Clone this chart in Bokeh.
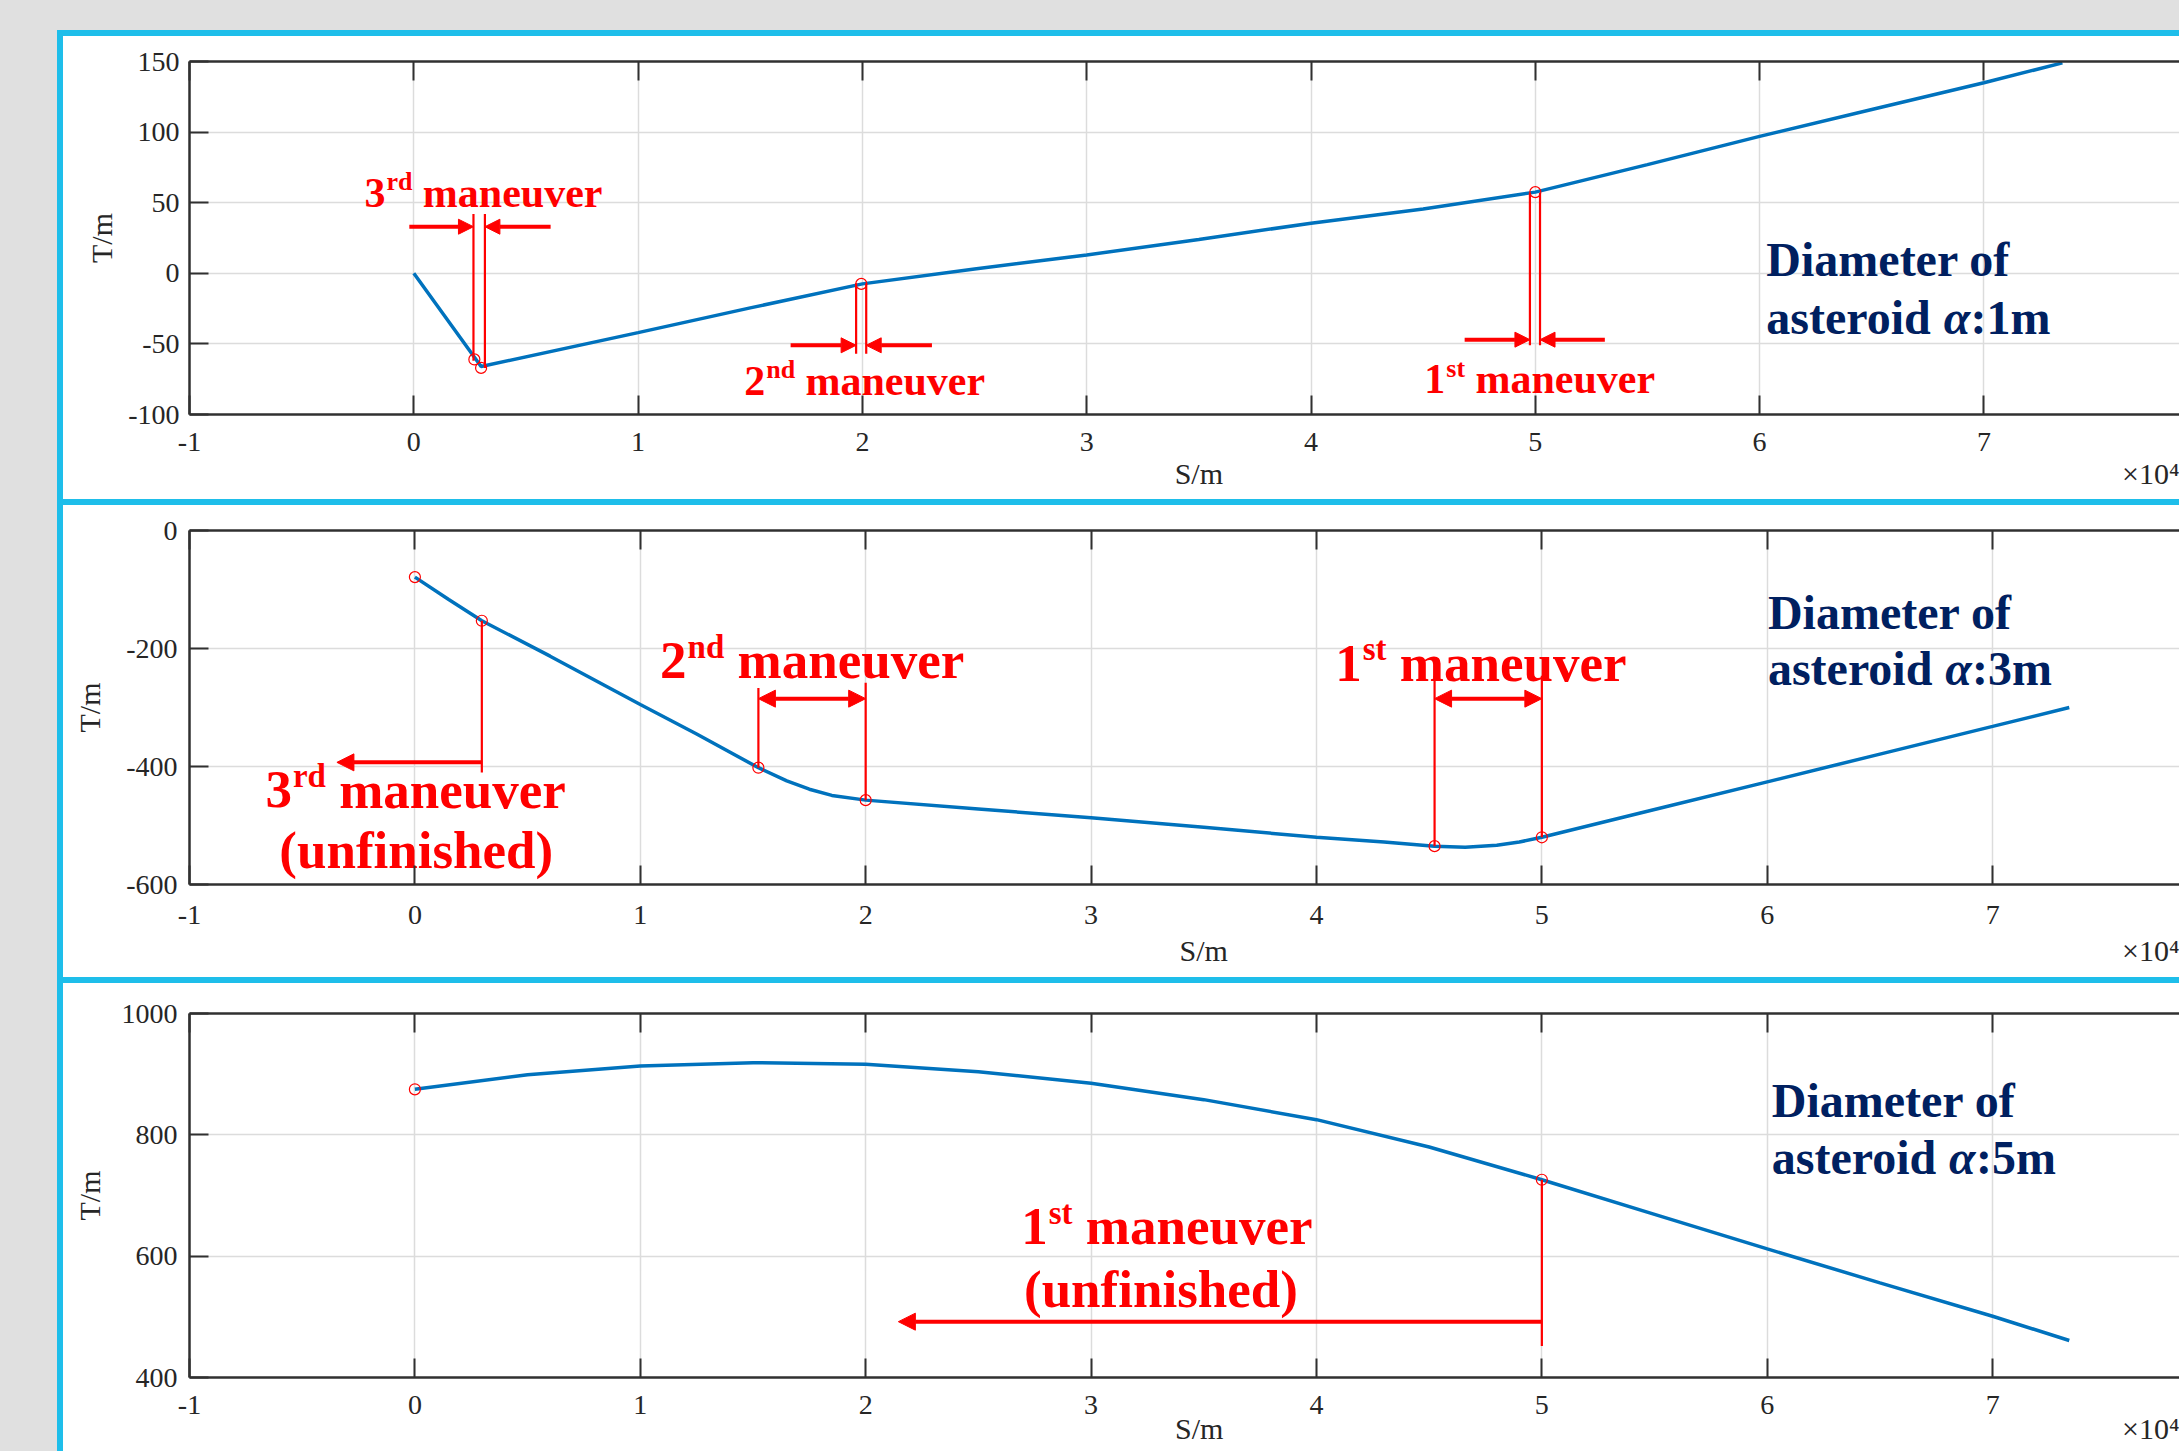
from bokeh.plotting import figure
from bokeh.models import (ColumnDataSource, Range1d, LinearAxis, FixedTicker, Arrow,
                          NormalHead, Spacer)
from bokeh.layouts import column, row
from bokeh.core.properties import value
from bokeh.embed import file_html
from bokeh.resources import INLINE

# ---------------- data (S in 10^4 m, T in m) ----------------
X_TICKS = [-1, 0, 1, 2, 3, 4, 5, 6, 7, 8]
X_LABELS = ["-1", "0", "1", "2", "3", "4", "5", "6", "7", "8"]

# Panel 1: diameter 1 m
S1 = [0, 0.3, 1.0, 1.5, 2.0, 2.5, 3.0, 3.5, 4.0, 4.5, 5.0, 5.5, 6.0, 6.5, 7.0, 7.35]
T1 = [0, -66, -42, -24.5, -7.5, 3, 13, 24, 35.5, 45.5, 57.5, 77, 97, 116, 135, 149]
C1_X = [0.27, 0.30, 1.995, 5.0]
C1_Y = [-61, -67, -7.5, 57.5]
Y1_TICKS = [-100, -50, 0, 50, 100, 150]
Y1_LABELS = ["-100", "-50", "0", "50", "100", "150"]

# Panel 2: diameter 3 m
S2 = [0, 0.15, 0.297, 0.6, 1.0, 1.25, 1.524, 1.65, 1.75, 1.85, 2.0, 2.5, 3.0, 3.5,
      4.0, 4.3, 4.524, 4.66, 4.8, 4.9, 5.0, 5.5, 6.0, 6.5, 7.0, 7.34]
T2 = [-79, -117, -153, -213, -295, -345, -402, -424.5, -438.5, -449, -457, -472, -487, -503,
      -520, -528, -535, -536.8, -533.6, -528, -520, -473, -426, -379, -332, -300]
C2_X = [0, 0.297, 1.524, 2.0, 4.524, 5.0]
C2_Y = [-79, -153, -402, -457, -535, -520]
Y2_TICKS = [-600, -400, -200, 0]
Y2_LABELS = ["-600", "-400", "-200", "0"]

# Panel 3: diameter 5 m
S3 = [0, 0.5, 1.0, 1.5, 2.0, 2.5, 3.0, 3.5, 4.0, 4.5, 5.0, 5.5, 6.0, 6.5, 7.0, 7.34]
T3 = [875, 899, 913.5, 919, 916.5, 904, 885, 858, 825, 780, 726, 669, 612, 556, 501, 461]
C3_X = [0, 5.0]
C3_Y = [875, 726]
Y3_TICKS = [400, 600, 800, 1000]
Y3_LABELS = ["400", "600", "800", "1000"]

# maneuver markers (vertical guide lines and arrows)
V1_X0 = [0.266, 0.317, 1.972, 2.017, 4.976, 5.021]
V1_Y0 = [-62, -67, -7, -7, 57, 57]
V1_Y1 = [42, 42, -57, -57, -51, -51]
A1_X0 = [-0.02, 0.61, 1.68, 2.31, 4.685, 5.31]
A1_X1 = [0.266, 0.317, 1.972, 2.017, 4.976, 5.021]
A1_Y = [33, 33, -51, -51, -47, -47]

V2_X0 = [1.524, 2.0, 4.524, 5.0, 0.297]
V2_Y0 = [-402, -457, -535, -520, -153]
V2_Y1 = [-267, -258, -246, -246, -410]
D2_X0 = [1.524, 4.524]
D2_X1 = [2.0, 5.0]
D2_Y = [-285, -285]
A2_X0 = [0.297]
A2_X1 = [-0.346]
A2_Y = [-393]

V3_X0 = [5.0]
V3_Y0 = [726]
V3_Y1 = [452]
A3_X0 = [5.0]
A3_X1 = [2.145]
A3_Y = [492]

# annotation texts
P1_MAN_X = [-0.22, 1.473, 4.505]
P1_MAN_Y = [57, -76, -75]
P1_MAN_NUM = ["3", "2", "1"]
P1_MAN_SUP = ["rd", "nd", "st"]

P2_MAN_X = [1.088, 4.083, -0.663]
P2_MAN_Y = [-220, -225, -439]
P2_MAN_NUM = ["2", "1", "3"]
P2_MAN_SUP = ["nd", "st", "rd"]
P2_UNF_X = [0.006]
P2_UNF_Y = [-541]

P3_MAN_X = [2.69]
P3_MAN_Y = [649]
P3_MAN_NUM = ["1"]
P3_MAN_SUP = ["st"]
P3_UNF_X = [3.31]
P3_UNF_Y = [546]

DIAM_TEXT = ["1m", "3m", "5m"]
DIAM_X = [6.03, 6.003, 6.02]
DIAM_Y1 = [10, -139, 857]
DIAM_Y2 = [-31.5, -234, 763]

# x-axis name and exponent positions (in S units of each panel)
SM_X = [3.5, 3.5, 3.48]
EXP_X = [7.827, 7.784, 7.784]
X_NAME = "S/m"
X_EXP = "\u00d710\u2074"

# ---------------- style ----------------
SERIF = "Liberation Serif"
BLUE = "#0072BD"
RED = "#FF0000"
NAVY = "#002060"
GRAY_BG = "#e0e0e0"
CYAN = "#1ebeea"
AXC = "#303030"
TXT = "#262626"

SUP_W = {"rd": 0.62, "nd": 0.69, "st": 0.45}


def make_panel(w, h, x_end, yr, yticks, ylabels, mb_left, mb_top, mb_bottom,
               tick_standoff, name_standoff, ylab_standoff, ytick_standoff, i):
    p = figure(width=w, height=h, x_range=Range1d(-1, x_end), y_range=Range1d(*yr),
               output_backend="svg", toolbar_location=None,
               min_border_left=mb_left, min_border_right=0,
               min_border_top=mb_top, min_border_bottom=mb_bottom)
    p.outline_line_color = None
    p.background_fill_color = "white"
    p.border_fill_color = "white"
    xt = FixedTicker(ticks=X_TICKS)
    yt = FixedTicker(ticks=yticks)
    p.xaxis.ticker = xt
    p.yaxis.ticker = yt
    p.xgrid.ticker = xt
    p.ygrid.ticker = yt
    for g in (p.xgrid, p.ygrid):
        g.grid_line_color = "#dcdcdc"
        g.grid_line_width = 1.5
    p.xaxis.major_label_overrides = {t: l for t, l in zip(X_TICKS, X_LABELS)}
    p.yaxis.major_label_overrides = {t: l for t, l in zip(yticks, ylabels)}
    for ax in (p.xaxis, p.yaxis):
        ax.major_tick_in = 19
        ax.major_tick_out = 0
        ax.minor_tick_in = 0
        ax.minor_tick_out = 0
        ax.axis_line_width = 2.5
        ax.axis_line_color = AXC
        ax.major_tick_line_width = 2
        ax.major_tick_line_color = AXC
        ax.major_label_text_font = SERIF
        ax.major_label_text_font_size = "28px"
        ax.major_label_text_color = TXT
        ax.axis_label_text_font = SERIF
        ax.axis_label_text_font_size = "30px"
        ax.axis_label_text_font_style = "normal"
        ax.axis_label_text_color = TXT
    p.xaxis.major_label_standoff = tick_standoff
    p.yaxis.major_label_standoff = ytick_standoff
    p.yaxis.axis_label = "T/m"
    p.yaxis.axis_label_standoff = ylab_standoff
    top = LinearAxis(ticker=xt, major_label_overrides={t: "" for t in X_TICKS},
                     major_label_text_font_size="1px", major_label_standoff=0,
                     major_tick_in=19, major_tick_out=0, minor_tick_in=0, minor_tick_out=0,
                     axis_line_width=2.5, axis_line_color=AXC,
                     major_tick_line_width=2, major_tick_line_color=AXC)
    p.add_layout(top, "above")
    # second row below the tick labels: axis name "S/m" and the exponent "x10^4"
    name_ticks = [SM_X[i], EXP_X[i]]
    names = LinearAxis(ticker=FixedTicker(ticks=name_ticks),
                       major_label_overrides={name_ticks[0]: X_NAME, name_ticks[1]: X_EXP},
                       major_label_text_font=SERIF, major_label_text_font_size="30px",
                       major_label_text_color=TXT, major_label_standoff=name_standoff,
                       axis_line_color=None, major_tick_line_color=None,
                       major_tick_in=0, major_tick_out=0, minor_tick_in=0, minor_tick_out=0)
    p.add_layout(names, "below")
    return p


def add_maneuvers(p, xs, ys, nums, sups, fs):
    p.text(x=xs, y=ys, text=nums, text_font=value(SERIF), text_font_style="bold",
           text_font_size=f"{fs}px", text_color=RED, text_align="left",
           text_baseline="alphabetic")
    p.text(x=xs, y=ys, text=sups, text_font=value(SERIF), text_font_style="bold",
           text_font_size=f"{round(fs * 0.62)}px", text_color=RED, text_align="left",
           text_baseline="alphabetic", x_offset=0.5 * fs + 1, y_offset=-0.26 * fs)
    offs = [0.5 * fs + SUP_W[s] * fs + 0.27 * fs for s in sups]
    src = ColumnDataSource(dict(x=xs, y=ys, t=["maneuver"] * len(xs), o=offs))
    p.text(x="x", y="y", text="t", x_offset="o", source=src, text_font=value(SERIF),
           text_font_style="bold", text_font_size=f"{fs}px", text_color=RED,
           text_align="left", text_baseline="alphabetic")


def add_diameter(p, x, y1, y2, tag, fs=48):
    kw = dict(text_font=value(SERIF), text_font_size=f"{fs}px", text_color=NAVY,
              text_align="left", text_baseline="alphabetic")
    p.text(x=[x], y=[y1], text=["Diameter of"], text_font_style="bold", **kw)
    p.text(x=[x], y=[y2], text=["asteroid "], text_font_style="bold", **kw)
    p.text(x=[x], y=[y2], text=["\u03b1"], text_font_style="bold italic",
           x_offset=3.694 * fs, **kw)
    p.text(x=[x], y=[y2], text=[":" + tag], text_font_style="bold",
           x_offset=3.694 * fs + 0.56 * fs, **kw)


def add_arrows(p, x0, x1, y, size, width, double=False):
    src = ColumnDataSource(dict(x0=x0, x1=x1, y=y))
    head = lambda: NormalHead(size=size, fill_color=RED, line_color=RED, line_width=1)
    arr = Arrow(source=src, x_start="x0", y_start="y", x_end="x1", y_end="y",
                line_color=RED, line_width=width, end=head(),
                start=head() if double else None)
    p.add_layout(arr)


W = 2116
# ---------- panel 1 ----------
p1 = make_panel(W, 463, 7.872, (-100, 150), Y1_TICKS, Y1_LABELS, 119, 25, 85, 18, 3, 7, 10, 0)
p1.line(S1, T1, line_color=BLUE, line_width=3.5)
p1.segment(x0=V1_X0, y0=V1_Y0, x1=V1_X0, y1=V1_Y1, line_color=RED, line_width=2.2)
p1.scatter(C1_X, C1_Y, marker="circle", size=11, fill_color=None, line_color=RED, line_width=1.2)
add_arrows(p1, A1_X0, A1_X1, A1_Y, 15, 4)
add_maneuvers(p1, P1_MAN_X, P1_MAN_Y, P1_MAN_NUM, P1_MAN_SUP, 42)
add_diameter(p1, DIAM_X[0], DIAM_Y1[0], DIAM_Y2[0], DIAM_TEXT[0])

# ---------- panel 2 ----------
p2 = make_panel(W, 472, 7.829, (-600, 0), Y2_TICKS, Y2_LABELS, 126, 25, 93, 21, 7, 17, 12, 1)
p2.line(S2, T2, line_color=BLUE, line_width=3.5)
p2.segment(x0=V2_X0, y0=V2_Y0, x1=V2_X0, y1=V2_Y1, line_color=RED, line_width=2.2)
p2.scatter(C2_X, C2_Y, marker="circle", size=11, fill_color=None, line_color=RED, line_width=1.2)
add_arrows(p2, D2_X0, D2_X1, D2_Y, 17, 4, double=True)
add_arrows(p2, A2_X0, A2_X1, A2_Y, 17, 4)
add_maneuvers(p2, P2_MAN_X, P2_MAN_Y, P2_MAN_NUM, P2_MAN_SUP, 53)
p2.text(x=P2_UNF_X, y=P2_UNF_Y, text=["(unfinished)"], text_font=value(SERIF),
        text_font_style="bold", text_font_size="53px", text_color=RED,
        text_align="center", text_baseline="alphabetic")
add_diameter(p2, DIAM_X[1], DIAM_Y1[1], DIAM_Y2[1], DIAM_TEXT[1])

# ---------- panel 3 ----------
p3 = make_panel(W, 468, 7.829, (400, 1000), Y3_TICKS, Y3_LABELS, 126, 30, 74, 18, -5, 13, 12, 2)
p3.line(S3, T3, line_color=BLUE, line_width=3.5)
p3.segment(x0=V3_X0, y0=V3_Y0, x1=V3_X0, y1=V3_Y1, line_color=RED, line_width=2.2)
p3.scatter(C3_X, C3_Y, marker="circle", size=11, fill_color=None, line_color=RED, line_width=1.2)
add_arrows(p3, A3_X0, A3_X1, A3_Y, 17, 4)
add_maneuvers(p3, P3_MAN_X, P3_MAN_Y, P3_MAN_NUM, P3_MAN_SUP, 53)
p3.text(x=P3_UNF_X, y=P3_UNF_Y, text=["(unfinished)"], text_font=value(SERIF),
        text_font_style="bold", text_font_size="53px", text_color=RED,
        text_align="center", text_baseline="alphabetic")
add_diameter(p3, DIAM_X[2], DIAM_Y1[2], DIAM_Y2[2], DIAM_TEXT[2])


def block(w, h, color):
    return Spacer(width=w, height=h, styles={"background-color": color})


inner = column(block(W, 6, CYAN), p1, block(W, 6, CYAN), p2, block(W, 6, CYAN), p3,
               spacing=0)
layout = column(block(2179, 30, GRAY_BG),
                row(block(57, 1421, GRAY_BG), block(6, 1421, CYAN), inner, spacing=0),
                spacing=0)

open("out.html", "w").write(file_html(layout, INLINE, title="maneuvers"))
